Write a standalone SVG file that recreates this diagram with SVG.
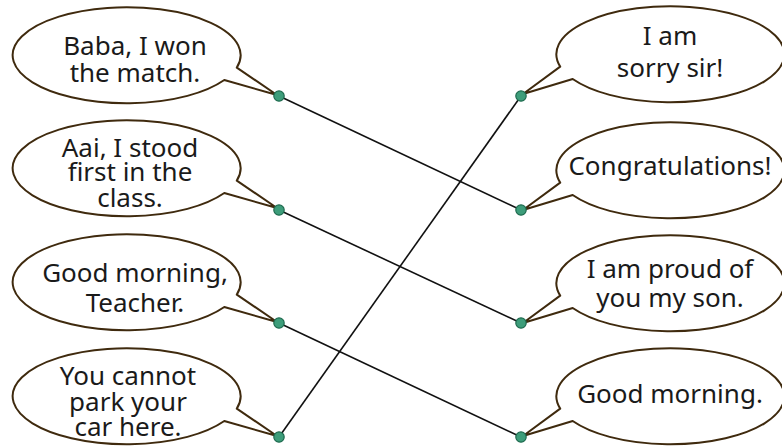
<svg xmlns="http://www.w3.org/2000/svg" xmlns:xlink="http://www.w3.org/1999/xlink" width="782" height="446" viewBox="0 0 782 446">
  <style>
    .bub { fill: #ffffff; stroke: #3f2a0e; stroke-width: 2; stroke-linejoin: round; }
    .dot { fill: #3d9d7a; stroke: #1f6a4f; stroke-width: 1.2; }
    .txt { font-family: "Noto Sans", "Open Sans", sans-serif; font-size: 26px; fill: #1a1a1a; text-anchor: middle; }
    .con line { stroke: #111111; stroke-width: 1.6; }
  </style>
  <defs>
    <path id="bubL" d="M 109.8 12.6 A 114 48 0 1 0 97.3 25 L 150 40 Z"/>
    <path id="bubR" d="M -109.8 12.6 A 114 48 0 1 1 -97.3 25 L -147 40 Z"/>
  </defs>
  <rect width="782" height="446" fill="#ffffff"/>

  <g id="connectors" class="con">
    <line x1="279" y1="96" x2="521" y2="210"/>
    <line x1="279" y1="210" x2="521" y2="323"/>
    <line x1="279" y1="323" x2="521" y2="437"/>
    <line x1="279" y1="437" x2="521" y2="96"/>
  </g>

  <g id="left1">
    <use xlink:href="#bubL" href="#bubL" class="bub" transform="translate(127,55)"/>
    <text class="txt" x="135" y="55">Baba, I won</text>
    <text class="txt" x="135" y="82">the match.</text>
    <circle class="dot" cx="279" cy="96" r="5.2"/>
  </g>
  <g id="left2">
    <use xlink:href="#bubL" href="#bubL" class="bub" transform="translate(127,168)"/>
    <text class="txt" x="130" y="157">Aai, I stood</text>
    <text class="txt" x="130" y="181">first in the</text>
    <text class="txt" x="130" y="207">class.</text>
    <circle class="dot" cx="279" cy="210" r="5.2"/>
  </g>
  <g id="left3">
    <use xlink:href="#bubL" href="#bubL" class="bub" transform="translate(127,282)"/>
    <text class="txt" x="135" y="282">Good morning,</text>
    <text class="txt" x="135" y="312">Teacher.</text>
    <circle class="dot" cx="279" cy="323" r="5.2"/>
  </g>
  <g id="left4">
    <use xlink:href="#bubL" href="#bubL" class="bub" transform="translate(127,396)"/>
    <text class="txt" x="128" y="385">You cannot</text>
    <text class="txt" x="128" y="411">park your</text>
    <text class="txt" x="128" y="436">car here.</text>
    <circle class="dot" cx="279" cy="437" r="5.2"/>
  </g>

  <g id="right1">
    <use xlink:href="#bubR" href="#bubR" class="bub" transform="translate(670,54)"/>
    <text class="txt" x="670" y="45">I am</text>
    <text class="txt" x="670" y="77">sorry sir!</text>
    <circle class="dot" cx="521" cy="96" r="5.2"/>
  </g>
  <g id="right2">
    <use xlink:href="#bubR" href="#bubR" class="bub" transform="translate(670,170)"/>
    <text class="txt" x="670" y="175">Congratulations!</text>
    <circle class="dot" cx="521" cy="210" r="5.2"/>
  </g>
  <g id="right3">
    <use xlink:href="#bubR" href="#bubR" class="bub" transform="translate(670,283)"/>
    <text class="txt" x="670" y="278">I am proud of</text>
    <text class="txt" x="670" y="307">you my son.</text>
    <circle class="dot" cx="521" cy="323" r="5.2"/>
  </g>
  <g id="right4">
    <use xlink:href="#bubR" href="#bubR" class="bub" transform="translate(670,396)"/>
    <text class="txt" x="670" y="403">Good morning.</text>
    <circle class="dot" cx="521" cy="437" r="5.2"/>
  </g>
</svg>
